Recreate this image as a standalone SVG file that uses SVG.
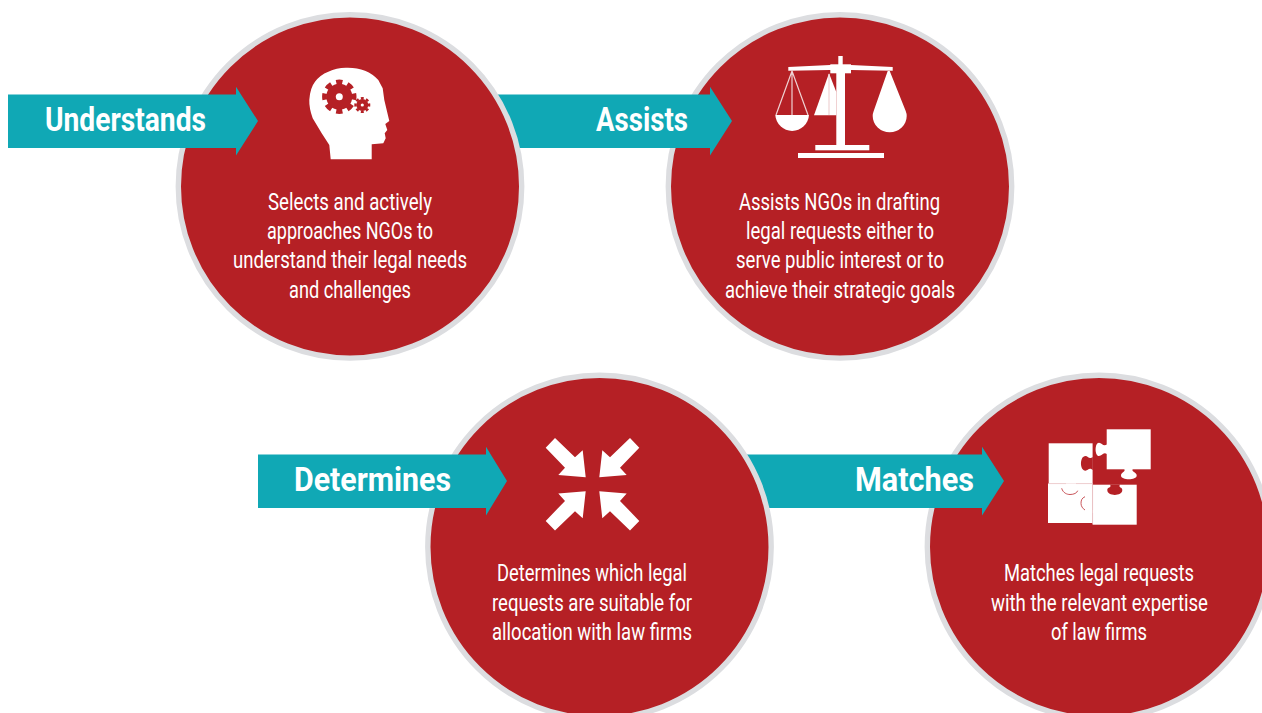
<svg xmlns="http://www.w3.org/2000/svg" xmlns:xlink="http://www.w3.org/1999/xlink" width="1262" height="713" viewBox="0 0 1262 713">
<style>
.disc{fill:#b52025;stroke:#dcdde0;stroke-width:5.4}
.arrow{fill:#10a8b5}
.head{font-family:"Roboto","Liberation Sans",sans-serif;font-weight:700;font-size:34px;fill:#fff}
.body{font-family:"Roboto","Liberation Sans",sans-serif;font-size:23px;fill:#fff}
.w{fill:#fff}
.r{fill:#b52025}
.string{stroke:#efd2d3;stroke-width:1.2;fill:none}
.seam{stroke:#c9555a;stroke-width:1;fill:none}
.hair{stroke:#e6bcbd;stroke-width:.6;fill:none}
</style>
<defs>
<polygon id="squeeze" class="w" points="-37.5,-46.3 -46.8,-36.6 -27.5,-16.6 -34.2,-9.3 -6.8,-7 -9.8,-34 -17.5,-27"/>
</defs>
<rect width="1262" height="713" fill="#fff"/>

<g id="node-assists">
<circle class="disc" cx="840" cy="186.400" r="171.700"/>
<g id="icon-scales">
<rect class="w" x="838.300" y="56" width="4.400" height="10"/>
<polygon class="w" points="788.300,67 830,65 851,65 892.700,67 892.700,70.700 851,70 830,70 788.300,70.700"/>
<rect class="w" x="830.300" y="64.300" width="20.700" height="9"/>
<rect class="w" x="836.300" y="72" width="8.700" height="74"/>
<rect class="w" x="815.300" y="145" width="54" height="5.300"/>
<rect class="w" x="798" y="153" width="86" height="5"/>
<path class="string" d="M776 115L792 71L808 115M792 71V115"/>
<path class="w" d="M775.300 115H809A16.900 17.300 0 0 1 775.300 115Z"/>
<polygon class="w" points="829,73.300 836.300,92 836.300,115.300 814,115.300"/>
<path class="string" d="M829 74V115"/>
<path class="w" d="M887.700 71H889.700L905.700 111Q906.700 113.500 906.700 116A17 16.300 0 0 1 872.700 116Q872.700 113.500 873.700 111Z"/>
</g>
<text class="body" x="739" y="210" textLength="201" lengthAdjust="spacingAndGlyphs">Assists NGOs in drafting</text>
<text class="body" x="746" y="239" textLength="188" lengthAdjust="spacingAndGlyphs">legal requests either to</text>
<text class="body" x="736" y="268" textLength="208" lengthAdjust="spacingAndGlyphs">serve public interest or to</text>
<text class="body" x="725" y="298" textLength="230" lengthAdjust="spacingAndGlyphs">achieve their strategic goals</text>
</g>

<g id="node-matches">
<circle class="disc" cx="1099" cy="547" r="171.700"/>
<g id="icon-puzzle">
<rect class="w" x="1106.700" y="429.300" width="44" height="40"/>
<path class="w" d="M1107 444.500C1103 447 1102 442.700 1099 442.700C1094.500 442.700 1094.500 456 1099 456C1102 456 1103 451.500 1107 454Z"/>
<path class="w" d="M1124.300 469C1126 472 1121 472 1121 475.500C1121 480.500 1136.700 480.500 1136.700 475.500C1136.700 472 1131 472 1132.700 469Z"/>
<rect class="w" x="1048.700" y="443.300" width="43.900" height="40.500"/>
<path class="r" d="M1092.800 457C1089 460 1088 456 1085.500 456C1079.500 456 1079.500 470.700 1085.500 470.700C1088 470.700 1089 467 1092.800 470Z"/>
<rect class="w" x="1048" y="483.500" width="44.600" height="39.500"/>
<rect class="w" x="1092.600" y="484.700" width="44.100" height="40"/>
<path class="r" d="M1110 484.500C1112 488 1107.300 487 1107.300 490C1107.300 496.500 1122.300 496.500 1122.300 490C1122.300 487 1118 488 1120 484.500Z"/>
<path class="seam" d="M1061.700 488.300C1063 493 1067 494.500 1070 494.500C1074 494.500 1077 493 1077.700 490.700M1085 496.700C1082 498 1081 500 1081 503.300C1081 506 1082.500 508.500 1085 510"/>
<path class="hair" d="M1048.700 483.600H1066M1076 483.600H1092.600V510M1092.600 513V524"/>
</g>
<text class="body" x="1004" y="581" textLength="190" lengthAdjust="spacingAndGlyphs">Matches legal requests</text>
<text class="body" x="991" y="611" textLength="217" lengthAdjust="spacingAndGlyphs">with the relevant expertise</text>
<text class="body" x="1051" y="640" textLength="96" lengthAdjust="spacingAndGlyphs">of law firms</text>
</g>

<g id="connectors">
<polygon id="arrow-assists" class="arrow" points="480,94.500 710,94.500 710,86.700 732,121 710,155.500 710,148 480,148"/>
<polygon id="arrow-matches" class="arrow" points="730,454.500 982,454.500 982,446.700 1004,481 982,515.500 982,508 730,508"/>
</g>

<g id="node-understands">
<circle class="disc" cx="350" cy="186.400" r="171.700"/>
<g id="icon-head">
<path class="w" d="M330.700 159.300L329.300 145L321.700 133.300L312.700 118.300Q309 108 309.300 100Q310 88 315 81.700Q320 75 328.300 71.700Q337 67.500 346.700 67.700Q357 67.500 365 70.700Q373 74 378.300 80L382.700 88.300L384.300 100L389.300 121L385.300 124L387.300 130L384.700 133.300L385.700 138.300L383.300 143.300L371.700 144.300V159.300Z"/>
<circle class="r" cx="339.300" cy="96.700" r="13"/>
<circle cx="339.300" cy="96.700" r="14.800" fill="none" stroke="#b52025" stroke-width="4.800" pathLength="16" stroke-dasharray="1.100 .9" stroke-dashoffset=".55"/>
<circle class="w" cx="339.300" cy="96.700" r="3.500"/>
<circle class="r" cx="362.300" cy="105" r="6"/>
<circle cx="362.300" cy="105" r="6.800" fill="none" stroke="#b52025" stroke-width="2.400" pathLength="16" stroke-dasharray="1.100 .9" stroke-dashoffset=".55"/>
<circle class="w" cx="362.300" cy="105" r="1.600"/>
</g>
<text class="body" x="268" y="210" textLength="164" lengthAdjust="spacingAndGlyphs">Selects and actively</text>
<text class="body" x="267" y="239" textLength="166" lengthAdjust="spacingAndGlyphs">approaches NGOs to</text>
<text class="body" x="233" y="268" textLength="234" lengthAdjust="spacingAndGlyphs">understand their legal needs</text>
<text class="body" x="289" y="298" textLength="122" lengthAdjust="spacingAndGlyphs">and challenges</text>
</g>

<g id="node-determines">
<circle class="disc" cx="599.500" cy="547" r="171.700"/>
<g id="icon-arrows">
<use xlink:href="#squeeze" href="#squeeze" transform="translate(592.500 484.300)"/>
<use xlink:href="#squeeze" href="#squeeze" transform="translate(592.500 484.300) scale(-1 1)"/>
<use xlink:href="#squeeze" href="#squeeze" transform="translate(592.500 484.300) scale(1 -1)"/>
<use xlink:href="#squeeze" href="#squeeze" transform="translate(592.500 484.300) scale(-1 -1)"/>
</g>
<text class="body" x="497" y="581" textLength="190" lengthAdjust="spacingAndGlyphs">Determines which legal</text>
<text class="body" x="492" y="611" textLength="200" lengthAdjust="spacingAndGlyphs">requests are suitable for</text>
<text class="body" x="492" y="640" textLength="200" lengthAdjust="spacingAndGlyphs">allocation with law firms</text>
</g>

<g id="connectors-front">
<polygon id="arrow-understands" class="arrow" points="8,94.500 236,94.500 236,86.700 258,121 236,155.500 236,148 8,148"/>
<polygon id="arrow-determines" class="arrow" points="258,454.500 486,454.500 486,446.700 507,481 486,515.500 486,508 258,508"/>
</g>

<g id="labels">
<text class="head" x="45" y="131" textLength="161" lengthAdjust="spacingAndGlyphs">Understands</text>
<text class="head" x="596" y="131" textLength="92" lengthAdjust="spacingAndGlyphs">Assists</text>
<text class="head" x="294" y="491" textLength="157" lengthAdjust="spacingAndGlyphs">Determines</text>
<text class="head" x="855" y="491" textLength="119" lengthAdjust="spacingAndGlyphs">Matches</text>
</g>
</svg>
